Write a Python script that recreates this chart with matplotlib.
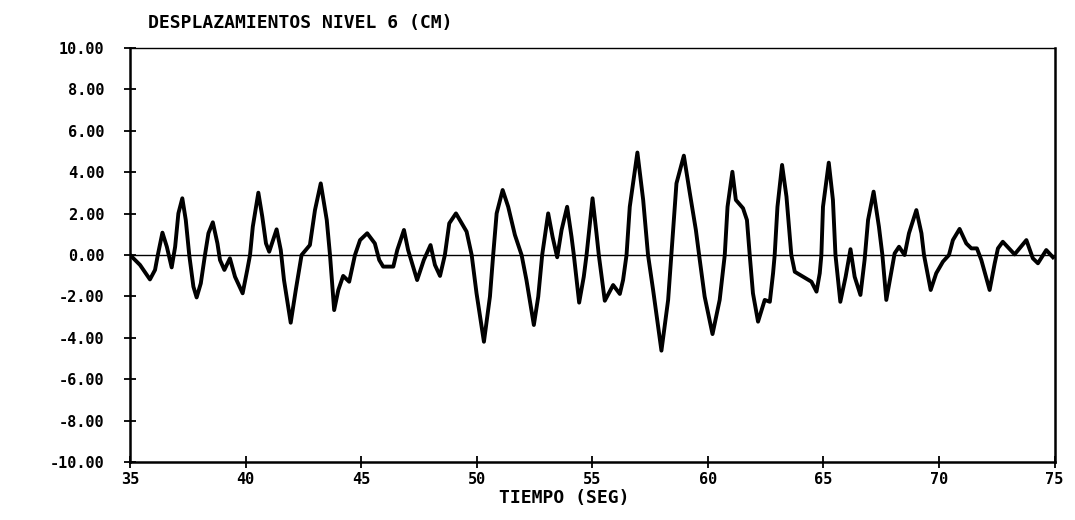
import numpy as np
import matplotlib
matplotlib.use('Agg')
import matplotlib.pyplot as plt

# Desplazamientos nivel 6 (tiempo en seg, desplazamiento en cm)
tiempo = [35.00, 35.43, 35.86, 36.08, 36.20, 36.40, 36.59, 36.80, 36.95, 37.09,
          37.26, 37.41, 37.56, 37.74, 37.88, 38.06, 38.24, 38.39, 38.58, 38.78,
          38.89, 39.08, 39.32, 39.54, 39.87, 40.07, 40.19, 40.31, 40.55, 40.72,
          40.88, 41.02, 41.34, 41.52, 41.66, 41.95, 42.17, 42.42, 42.78, 43.00,
          43.25, 43.51, 43.65, 43.83, 44.01, 44.22, 44.48, 44.73, 44.95, 45.26,
          45.59, 45.78, 45.95, 46.39, 46.56, 46.85, 47.03, 47.42, 47.71, 48.00,
          48.19, 48.41, 48.62, 48.81, 49.10, 49.56, 49.78, 49.99, 50.31, 50.57,
          50.71, 50.86, 51.12, 51.36, 51.65, 51.94, 52.15, 52.47, 52.66, 52.83,
          53.09, 53.28, 53.48, 53.67, 53.91, 54.10, 54.20, 54.43, 54.63, 54.75,
          55.01, 55.18, 55.28, 55.54, 55.90, 56.19, 56.33, 56.48, 56.62, 56.95,
          57.20, 57.41, 57.63, 57.99, 58.28, 58.42, 58.64, 58.96, 59.22, 59.48,
          59.62, 59.86, 60.20, 60.51, 60.73, 60.85, 61.06, 61.21, 61.52, 61.69,
          61.81, 61.95, 62.17, 62.46, 62.68, 62.82, 62.89, 63.01, 63.21, 63.40,
          63.61, 63.76, 64.12, 64.48, 64.70, 64.84, 64.91, 64.98, 65.23, 65.41,
          65.52, 65.73, 65.96, 66.17, 66.35, 66.60, 66.78, 66.93, 67.17, 67.40,
          67.55, 67.72, 67.90, 68.08, 68.27, 68.51, 68.70, 69.02, 69.24, 69.35,
          69.64, 69.88, 70.17, 70.43, 70.60, 70.89, 71.18, 71.40, 71.64, 71.83,
          72.19, 72.41, 72.55, 72.76, 73.27, 73.78, 74.06, 74.28, 74.64, 74.93]
despl = [0.00, -0.48, -1.18, -0.72, 0.00, 1.08, 0.40, -0.60, 0.40, 2.01,
         2.74, 1.69, 0.00, -1.53, -2.05, -1.37, 0.00, 1.05, 1.58, 0.56,
         -0.24, -0.72, -0.16, -1.05, -1.85, -0.72, 0.00, 1.37, 3.01, 1.85,
         0.56, 0.16, 1.24, 0.24, -1.21, -3.27, -1.69, 0.00, 0.48, 2.17,
         3.46, 1.69, 0.00, -2.66, -1.69, -1.01, -1.29, 0.00, 0.72, 1.05,
         0.56, -0.24, -0.56, -0.56, 0.24, 1.21, 0.24, -1.21, -0.24, 0.48,
         -0.48, -1.01, 0.00, 1.53, 2.01, 1.13, 0.00, -1.85, -4.19, -2.01,
         0.00, 2.01, 3.14, 2.33, 0.97, 0.00, -1.21, -3.38, -2.01, 0.00,
         2.01, 0.88, -0.11, 1.21, 2.33, 0.88, 0.00, -2.30, -1.05, 0.00,
         2.74, 1.05, 0.00, -2.21, -1.45, -1.88, -1.21, 0.00, 2.33, 4.95,
         2.66, 0.00, -1.69, -4.62, -2.17, 0.00, 3.46, 4.80, 2.98, 1.21,
         0.00, -2.01, -3.82, -2.17, 0.00, 2.33, 4.02, 2.66, 2.26, 1.69,
         0.00, -1.85, -3.22, -2.17, -2.26, -0.88, 0.00, 2.33, 4.35, 2.82,
         0.00, -0.81, -1.05, -1.29, -1.77, -0.88, 0.00, 2.33, 4.46, 2.66,
         0.00, -2.26, -1.05, 0.28, -1.05, -1.93, -0.24, 1.69, 3.06, 1.37,
         0.00, -2.17, -1.05, 0.08, 0.40, 0.00, 1.05, 2.17, 1.05, 0.00,
         -1.69, -0.88, -0.32, 0.00, 0.72, 1.26, 0.56, 0.32, 0.32, -0.24,
         -1.69, -0.40, 0.32, 0.64, 0.03, 0.72, -0.16, -0.40, 0.24, -0.11]

xticks = [35, 40, 45, 50, 55, 60, 65, 70, 75]
yticks = [10, 8, 6, 4, 2, 0, -2, -4, -6, -8, -10]
ytick_labels = ['10.00', '8.00', '6.00', '4.00', '2.00', '0.00',
                '-2.00', '-4.00', '-6.00', '-8.00', '-10.00']

plt.rcParams['font.family'] = 'DejaVu Sans Mono'
plt.rcParams['font.weight'] = 'bold'

fig = plt.figure(figsize=(10.75, 5.2), dpi=100)
ax = fig.add_axes([0.121, 0.1115, 0.860, 0.7962])

ax.plot(tiempo, despl, color='black', lw=2.8, solid_joinstyle='round')
ax.axhline(0, color='black', lw=1.0)

ax.set_xlim(35, 75)
ax.set_ylim(-10, 10)
ax.set_xticks(xticks)
ax.set_xticklabels([str(t) for t in xticks], fontsize=11, fontweight='bold')
ax.set_yticks(yticks)
ax.set_yticklabels(ytick_labels, fontsize=11, fontweight='bold')
ax.tick_params(axis='both', direction='inout', length=9, width=1.3, colors='black')
ax.tick_params(axis='y', pad=14)
ax.tick_params(axis='x', pad=3)

for side in ['left', 'bottom', 'right']:
    ax.spines[side].set_linewidth(1.8)
ax.spines['top'].set_linewidth(1.0)

fig.text(0.138, 0.955, 'DESPLAZAMIENTOS NIVEL 6 (CM)', fontsize=13, fontweight='bold',
         ha='left', va='center')
fig.text(0.525, 0.043, 'TIEMPO (SEG)', fontsize=13, fontweight='bold',
         ha='center', va='center')

fig.savefig('out.png', dpi=100)
